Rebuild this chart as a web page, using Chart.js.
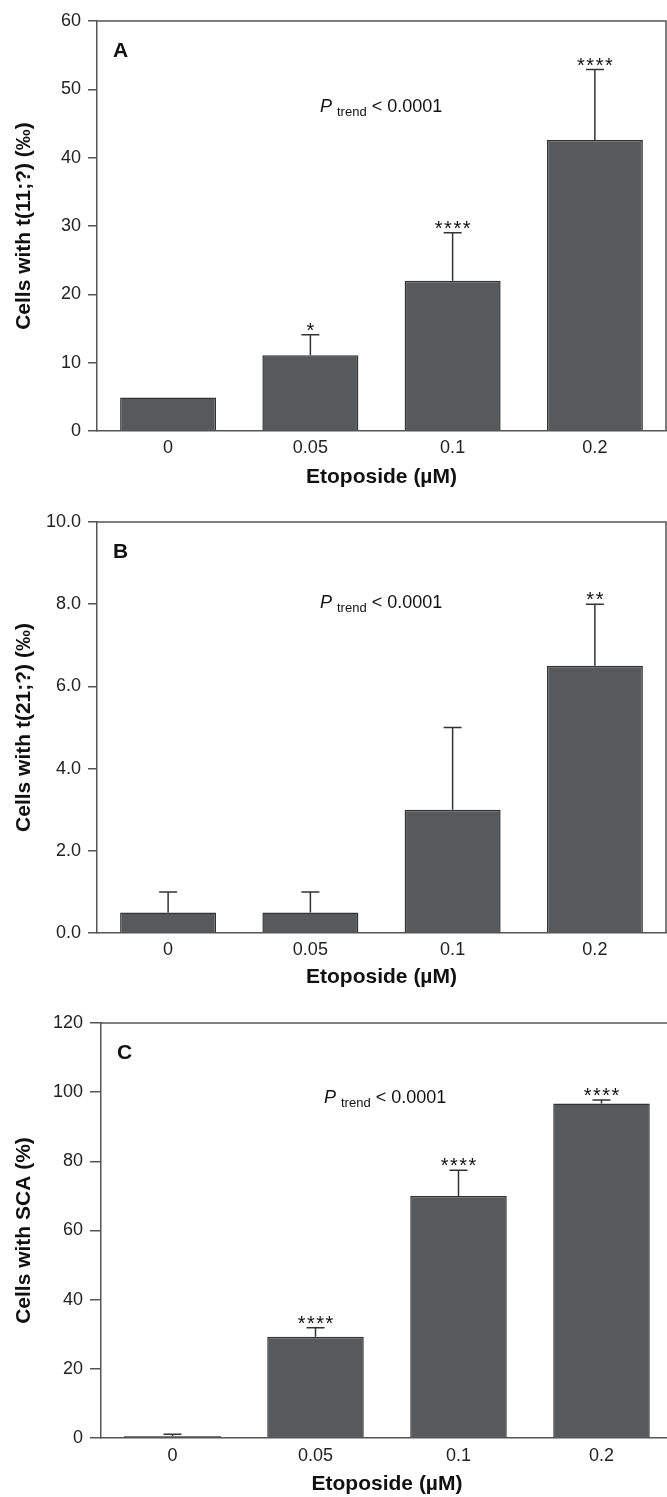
<!DOCTYPE html>
<html>
<head>
<meta charset="utf-8">
<script src="https://cdn.jsdelivr.net/npm/chart.js@4/dist/chart.umd.min.js"></script>
<style>
  body { margin: 0; background: #fff; overflow: hidden; }
  .panel { position: absolute; left: 0; }
</style>
</head>
<body>
<div class="panel" style="top:0"><canvas id="chartA" width="667" height="500"></canvas></div>
<div class="panel" style="top:500px"><canvas id="chartB" width="667" height="500"></canvas></div>
<div class="panel" style="top:1000px"><canvas id="chartC" width="675" height="497"></canvas></div>
<script>
var categories = ['0', '0.05', '0.1', '0.2'];

// t(11;?) per mille
var t11Means = [4.9, 11.1, 22.0, 42.6];
var t11Errors = [0, 3.0, 7.0, 10.3];
var t11Stars = ['', '*', '****', '****'];

// t(21;?) per mille
var t21Means = [0.5, 0.5, 3.0, 6.5];
var t21Errors = [0.5, 0.5, 2.0, 1.5];
var t21Stars = ['', '', '', '**'];

// cells with SCA (%)
var scaMeans = [0.6, 29.3, 70.0, 96.7];
var scaErrors = [0.5, 2.6, 7.4, 1.0];
var scaStars = ['', '****', '****', '****'];

var FONT = "'Liberation Sans', Arial, sans-serif";

// frame, error bars, stars, panel letter, P trend
var decor = {
    id: 'decor',
    afterDatasetsDraw: function(chart, args, opts) {
        var ctx = chart.ctx;
        var a = chart.chartArea;
        var y = chart.scales.y;
        var meta = chart.getDatasetMeta(0);
        ctx.save();
        ctx.strokeStyle = '#555';
        ctx.lineWidth = 1.5;
        ctx.beginPath();
        ctx.moveTo(a.left, a.top);
        ctx.lineTo(a.right, a.top);
        ctx.lineTo(a.right, a.bottom);
        ctx.stroke();

        ctx.strokeStyle = '#333';
        ctx.lineWidth = 1.5;
        ctx.fillStyle = '#111';
        ctx.font = '20px ' + FONT;
        ctx.textAlign = 'center';
        ctx.textBaseline = 'alphabetic';
        meta.data.forEach(function(bar, i) {
            var e = opts.errors[i];
            var topPx = y.getPixelForValue(opts.means[i] + e);
            if (e > 0) {
                ctx.beginPath();
                ctx.moveTo(bar.x, bar.y);
                ctx.lineTo(bar.x, topPx);
                ctx.moveTo(bar.x - 9, topPx);
                ctx.lineTo(bar.x + 9, topPx);
                ctx.stroke();
            }
            if (opts.stars[i]) {
                ctx.letterSpacing = '1.5px';
                ctx.fillText(opts.stars[i], bar.x + 0.75, topPx + 2);
                ctx.letterSpacing = '0px';
            }
        });

        // panel letter
        ctx.textAlign = 'left';
        ctx.font = 'bold 21px ' + FONT;
        ctx.fillText(opts.letter, a.left + 16, a.top + 36);

        // P trend
        var px = a.left + 223;
        var py = y.getPixelForValue(opts.pY);
        ctx.font = 'italic 18px ' + FONT;
        ctx.fillText('P', px, py);
        px += ctx.measureText('P').width + 5;
        ctx.font = '13px ' + FONT;
        ctx.fillText('trend', px, py + 4);
        px += ctx.measureText('trend').width + 5;
        ctx.font = '18px ' + FONT;
        ctx.fillText('< 0.0001', px, py);
        ctx.restore();
    }
};

function makeChart(id, opt) {
    var ctx = document.getElementById(id).getContext('2d');
    return new Chart(ctx, {
        type: 'bar',
        data: {
            labels: categories,
            datasets: [{
                data: opt.means,
                backgroundColor: '#58595b',
                borderColor: '#333',
                borderWidth: 1.5,
                barPercentage: 0.675,
                categoryPercentage: 1.0
            }]
        },
        options: {
            responsive: false,
            animation: false,
            devicePixelRatio: 1,
            layout: { padding: { top: opt.top, right: opt.right, left: 0, bottom: 0 } },
            plugins: {
                legend: { display: false },
                tooltip: { enabled: false },
                decor: opt
            },
            scales: {
                x: {
                    afterFit: function(s) { s.height = opt.xHeight; },
                    grid: { display: false, drawTicks: false },
                    border: { display: true, color: '#555', width: 1.5 },
                    ticks: { color: '#222', padding: opt.tickPad, font: { family: FONT, size: 18 } },
                    title: {
                        display: true,
                        text: 'Etoposide (µM)',
                        color: '#111',
                        font: { family: FONT, size: 21, weight: 'bold' },
                        padding: { top: 0, bottom: opt.titlePad }
                    }
                },
                y: {
                    min: 0,
                    max: opt.max,
                    afterFit: function(s) { s.width = opt.left; },
                    grid: { display: true, drawOnChartArea: false, drawTicks: true, tickLength: opt.tickLen, color: '#555', lineWidth: 1.5 },
                    border: { display: true, color: '#555', width: 1.5 },
                    ticks: {
                        stepSize: opt.step,
                        color: '#222',
                        padding: 7,
                        font: { family: FONT, size: 18 },
                        callback: function(v) { return opt.decimals ? v.toFixed(1) : v; }
                    },
                    title: {
                        display: true,
                        text: opt.yTitle,
                        color: '#111',
                        font: { family: FONT, size: 21, weight: 'bold' },
                        padding: { top: 12, bottom: 0 }
                    }
                }
            }
        },
        plugins: [decor]
    });
}

makeChart('chartA', {
    means: t11Means, errors: t11Errors, stars: t11Stars, letter: 'A', pY: 46.7,
    max: 60, step: 10, decimals: false, yTitle: 'Cells with t(11;?) (‰)',
    top: 21, right: 1, left: 97, xHeight: 69, tickPad: 6, titlePad: 10, tickLen: 9
});

makeChart('chartB', {
    means: t21Means, errors: t21Errors, stars: t21Stars, letter: 'B', pY: 7.9,
    max: 10, step: 2, decimals: true, yTitle: 'Cells with t(21;?) (‰)',
    top: 22, right: 1, left: 97, xHeight: 67, tickPad: 6, titlePad: 10, tickLen: 9
});

makeChart('chartC', {
    means: scaMeans, errors: scaErrors, stars: scaStars, letter: 'C', pY: 96.9,
    max: 120, step: 20, decimals: false, yTitle: 'Cells with SCA (%)',
    top: 23, right: 2, left: 101, xHeight: 59, tickPad: 7, titlePad: 0, tickLen: 11
});
</script>
</body>
</html>
